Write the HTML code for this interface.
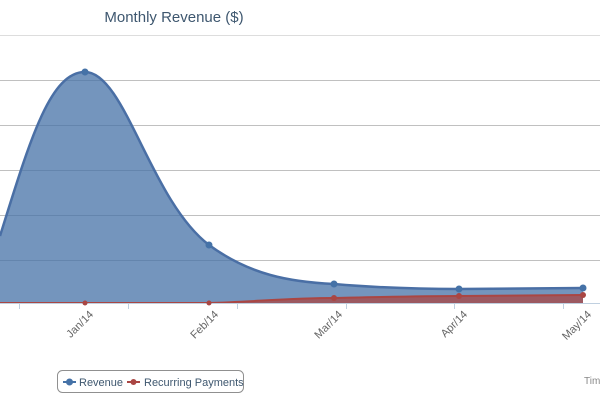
<!DOCTYPE html>
<html><head><style>
body{margin:0;background:#fff;width:600px;height:400px;overflow:hidden;font-family:"Liberation Sans",sans-serif}
</style></head><body>
<svg width="600" height="400" xmlns="http://www.w3.org/2000/svg">
<text x="174" y="22" font-size="15" fill="#3e576f" text-anchor="middle" font-family="Liberation Sans">Monthly Revenue ($)</text>
<g stroke="#c0c0c0" stroke-width="1">
<line x1="0" y1="35.5" x2="600" y2="35.5" stroke="#ddd"/>
<line x1="0" y1="80.5" x2="600" y2="80.5"/>
<line x1="0" y1="125.5" x2="600" y2="125.5"/>
<line x1="0" y1="170.5" x2="600" y2="170.5"/>
<line x1="0" y1="215.5" x2="600" y2="215.5"/>
<line x1="0" y1="260.5" x2="600" y2="260.5"/>
</g>
<path d="M0,236 C30,140 50,72 85,72 C125,72 150,200 209,245 C250,275 290,282 334,284 C380,288 420,289 459,289 L583,288 L583,303 L0,303 Z" fill="#4572a7" fill-opacity="0.75"/>
<path d="M0,236 C30,140 50,72 85,72 C125,72 150,200 209,245 C250,275 290,282 334,284 C380,288 420,289 459,289 L583,288" fill="none" stroke="#4a6fa5" stroke-width="2.5"/>
<path d="M0,303 L209,303 C250,302 290,298 334,298 C380,297 420,296 459,296 L583,295 L583,303 Z" fill="#aa4643" fill-opacity="0.75"/>
<path d="M0,303 L209,303 C250,302 290,298 334,298 C380,297 420,296 459,296 L583,295" fill="none" stroke="#aa4643" stroke-width="2"/>
<line x1="0" y1="303.5" x2="600" y2="303.5" stroke="#c0d0e0"/>
<g stroke="#c0d0e0"><line x1="19.5" y1="303" x2="19.5" y2="309"/><line x1="128.5" y1="303" x2="128.5" y2="309"/><line x1="237.5" y1="303" x2="237.5" y2="309"/><line x1="346.5" y1="303" x2="346.5" y2="309"/><line x1="454.5" y1="303" x2="454.5" y2="309"/><line x1="563.5" y1="303" x2="563.5" y2="309"/></g>
<g fill="#4572a7"><circle cx="85" cy="72" r="3.5"/><circle cx="209" cy="245" r="3.5"/><circle cx="334" cy="284" r="3.5"/><circle cx="459" cy="289" r="3.5"/><circle cx="583" cy="288" r="3.5"/></g>
<g fill="#aa4643"><circle cx="85" cy="303" r="2.5"/><circle cx="209" cy="303" r="2.5"/><circle cx="334" cy="298" r="3"/><circle cx="459" cy="296" r="3"/><circle cx="583" cy="295" r="3"/></g>
<g font-size="11" fill="#666" text-anchor="end">
<text transform="translate(94,315) rotate(-45)">Jan/14</text>
<text transform="translate(219,315) rotate(-45)">Feb/14</text>
<text transform="translate(343,315) rotate(-45)">Mar/14</text>
<text transform="translate(468,315) rotate(-45)">Apr/14</text>
<text transform="translate(592,315) rotate(-45)">May/14</text>
</g>
<rect x="57.5" y="370.5" width="186" height="22" rx="5" fill="#fff" stroke="#909090"/>
<line x1="63" y1="382" x2="76" y2="382" stroke="#4572a7" stroke-width="2"/><circle cx="69.5" cy="382" r="3.5" fill="#4572a7"/>
<text x="79" y="386" font-size="11" fill="#3e576f">Revenue</text>
<line x1="127" y1="382" x2="140" y2="382" stroke="#aa4643" stroke-width="2"/><circle cx="133.5" cy="382" r="3" fill="#aa4643"/>
<text x="144" y="386" font-size="11" fill="#3e576f">Recurring Payments</text>
<text x="584" y="384" font-size="10" fill="#888">Tim</text>
</svg>
</body></html>
